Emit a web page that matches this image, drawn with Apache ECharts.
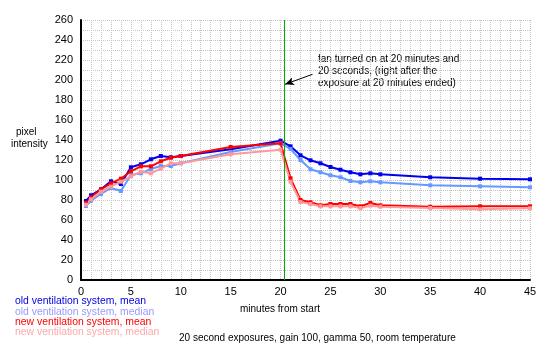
<!DOCTYPE html>
<html>
<head>
<meta charset="utf-8">
<script src="https://cdn.jsdelivr.net/npm/echarts@6/dist/echarts.min.js"></script>
<style>html,body{margin:0;padding:0;background:#fff;}#c{width:550px;height:350px;}</style>
</head>
<body>
<div id="c"></div>
<script>
var minutes = [0.5,1,2,3,4,5,6,7,8,9,10,15,20,21,22,23,24,25,26,27,28,29,30,35,40,45];
var oldMean = [79,84.7,90.7,98.7,96,112.7,115.7,120.7,124,122.7,124,130.7,139.3,133.7,124.7,119.7,116.7,113,110.3,107.7,105.7,106.7,105.7,102.7,101.3,100.7];
var oldMedian = [74,79.3,86,92,89,105,106.7,111,114,114,116.7,128,136.7,131,120,110.7,107.7,104.7,102.7,99,97.7,98.7,97.7,94.7,93.7,92.7];
var newMean = [77.3,82.7,90.7,96.7,101.3,108.7,113.7,113.7,118.7,122.3,124,133,136.7,101.7,80,77.7,74.7,76,76,76,73.7,77,74.7,73.3,73.7,73.7];
var newMedian = [75.3,80.7,88.3,93.3,98.3,103.7,108.3,106.7,111.3,116.7,116.7,125.7,130.3,98.3,78,76,73.7,73.7,73.7,73.7,72,74.3,73.3,72,70.7,71.7];
var seriesNames = ['old ventilation system, mean','old ventilation system, median','new ventilation system, mean','new ventilation system, median'];
var lineColors = ['#0000ee','#6699ff','#ff0000','#ff9999'];
var legendColors = ['#0000dd','#9999ff','#ff0000','#ffa8a8'];
var fanOnMinute = 20.33;
var noteLines = ['fan turned on at 20 minutes and','20 seconds, (right after the','exposure at 20 minutes ended)'];
var xName = 'minutes from start';
var yNameLines = ['pixel','intensity'];
var caption = '20 second exposures, gain 100, gamma 50, room temperature';

var FONT = '"Liberation Sans", Arial, sans-serif';
function pairs(vals){ return minutes.map(function(m,i){ return [m, vals[i]]; }); }
var allVals = [oldMean, oldMedian, newMean, newMedian];

var series = allVals.map(function(v,i){
  return {
    name: seriesNames[i], type: 'line', data: pairs(v),
    symbol: 'rect', symbolSize: 4, showSymbol: true,
    lineStyle: {color: lineColors[i], width: 2},
    itemStyle: {color: lineColors[i]},
    emphasis: {disabled: true}, animation: false
  };
});
series[0].markLine = {
  silent: true, animation: false, label: {show: false},
  data: [
    [{coord: [fanOnMinute, 0], symbol: 'none', lineStyle: {color: '#00aa00', width: 1, type: 'solid'}},
     {coord: [fanOnMinute, 260], symbol: 'none'}],
    [{coord: [23.2, 205.7], symbol: 'none', lineStyle: {color: '#000', width: 1, type: 'solid'}},
     {coord: [20.45, 195.7], symbol: 'arrow', symbolSize: [6, 9]}]
  ]
};

var chart = echarts.init(document.getElementById('c'));
chart.setOption({
  backgroundColor: '#fff',
  animation: false,
  grid: {left: 81, right: 20, top: 20, bottom: 70, containLabel: false},
  xAxis: {
    type: 'value', min: 0, max: 45, interval: 5,
    axisLine: {show: true, onZero: false, lineStyle: {color: '#000', width: 2}},
    axisTick: {show: false},
    axisLabel: {color: '#000', fontFamily: FONT, fontSize: 11, margin: 6},
    splitLine: {show: true, lineStyle: {color: '#c4c4c4', type: [1, 1], width: 1}},
    minorTick: {show: false, splitNumber: 5},
    minorSplitLine: {show: true, lineStyle: {color: '#c4c4c4', type: [1, 1], width: 1}}
  },
  yAxis: {
    type: 'value', min: 0, max: 260, interval: 20,
    axisLine: {show: true, lineStyle: {color: '#000', width: 2}},
    axisTick: {show: false},
    axisLabel: {color: '#000', fontFamily: FONT, fontSize: 11, margin: 8},
    splitLine: {show: true, lineStyle: {color: '#c4c4c4', type: [1, 1], width: 1}},
    minorTick: {show: false, splitNumber: 2},
    minorSplitLine: {show: true, lineStyle: {color: '#c4c4c4', type: [1, 1], width: 1}}
  },
  legend: {
    orient: 'vertical', left: 10, top: 296.5, itemGap: 0.3,
    itemWidth: 0, itemHeight: 0, icon: 'rect', selectedMode: false,
    padding: 0,
    textStyle: {fontFamily: FONT, fontSize: 10.4, lineHeight: 10, padding: 0},
    data: seriesNames.map(function(n,i){ return {name: n, textStyle: {color: legendColors[i]}}; })
  },
  graphic: [
    {type: 'text', left: 318, top: 53, silent: true,
     style: {text: noteLines.join('\n'), fill: '#000', font: '10px ' + FONT, lineHeight: 12.2}},
    {type: 'text', left: 240, top: 304, silent: true,
     style: {text: xName, fill: '#000', font: '10px ' + FONT}},
    {type: 'text', left: 16, top: 127, silent: true,
     style: {text: yNameLines[0], fill: '#000', font: '10px ' + FONT}},
    {type: 'text', left: 11, top: 139, silent: true,
     style: {text: yNameLines[1], fill: '#000', font: '10px ' + FONT}},
    {type: 'text', left: 179, top: 333, silent: true,
     style: {text: caption, fill: '#000', font: '10px ' + FONT}}
  ],
  series: series
});
</script>
</body>
</html>
